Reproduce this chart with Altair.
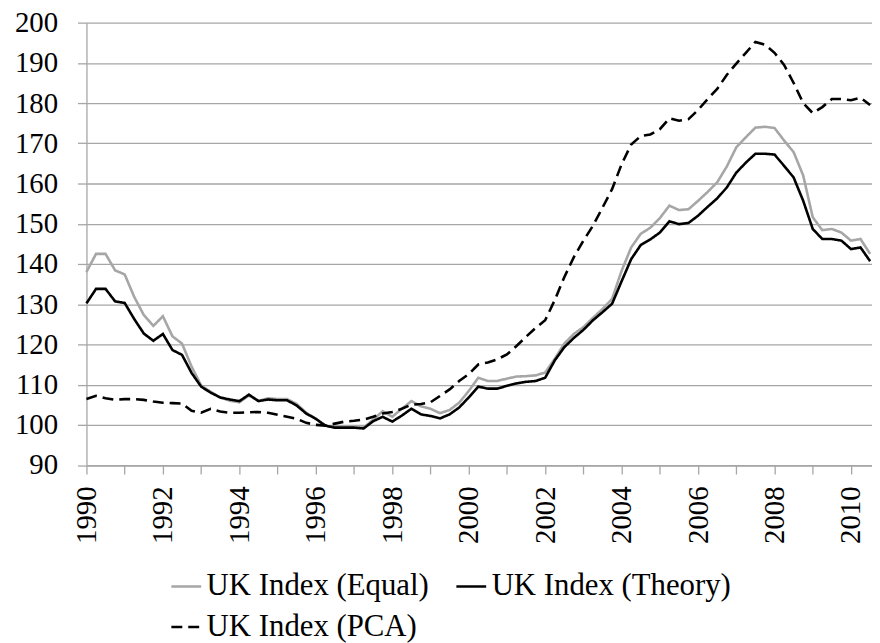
import altair as alt
import pandas as pd

# Quarterly UK house price indices, 1990Q1 - 2010Q3
start_year = 1990
series_names = ["UK Index (Equal)", "UK Index (Theory)", "UK Index (PCA)"]

equal = [
    138.0, 142.5, 142.5, 138.4, 137.4, 131.8, 127.3, 124.6, 127.0, 122.0,
    120.2, 114.5, 109.8, 108.2, 106.8, 106.0, 105.6, 107.3, 106.0, 106.6,
    106.4, 106.4, 105.2, 103.0, 101.5, 99.8, 99.3, 99.3, 99.3, 99.3,
    101.3, 103.4, 102.0, 104.0, 105.9, 104.6, 104.0, 102.9, 103.7, 105.5,
    108.4, 111.7, 110.9, 110.9, 111.5, 112.0, 112.1, 112.3, 113.0, 116.4,
    120.2, 122.6, 124.3, 126.6, 128.8, 131.3, 138.3, 144.1, 147.5, 149.0,
    151.4, 154.5, 153.4, 153.6, 155.7, 157.9, 160.3, 164.2, 169.0, 171.5,
    173.9, 174.1, 173.8, 170.7, 167.8, 162.0, 151.6, 148.4, 148.7, 147.8,
    145.8, 146.2, 142.5,
]
theory = [
    130.2, 133.8, 133.8, 130.7, 130.3, 126.3, 122.7, 120.9, 122.6, 118.6,
    117.4, 112.9, 109.5, 108.0, 106.8, 106.3, 105.9, 107.5, 105.9, 106.3,
    106.1, 106.1, 104.8, 102.8, 101.5, 99.8, 99.3, 99.3, 99.3, 99.1,
    100.9, 102.0, 100.8, 102.3, 104.0, 102.6, 102.2, 101.6, 102.6, 104.3,
    106.8, 109.5, 109.0, 109.0, 109.7, 110.3, 110.7, 110.9, 111.7, 116.0,
    119.3, 121.6, 123.6, 126.0, 128.0, 130.1, 135.7, 141.2, 144.7, 146.1,
    147.8, 150.6, 149.9, 150.2, 152.0, 154.2, 156.3, 159.0, 162.7, 165.2,
    167.4, 167.4, 167.2, 164.4, 161.5, 155.7, 148.7, 146.2, 146.2, 145.8,
    143.7, 144.1, 140.7,
]
pca = [
    106.4, 107.2, 106.6, 106.2, 106.4, 106.4, 106.2, 105.8, 105.5, 105.4,
    105.3, 103.5, 103.0, 104.0, 103.3, 103.0, 103.0, 103.1, 103.2, 103.0,
    102.5, 102.0, 101.5, 100.5, 100.0, 99.8, 100.3, 100.8, 101.0, 101.3,
    102.0, 102.8, 103.2, 104.0, 105.0, 105.2, 105.6, 107.2, 108.8, 110.9,
    112.6, 115.0, 115.5, 116.3, 117.5, 119.6, 121.9, 124.1, 126.0, 131.0,
    136.7, 141.7, 145.8, 149.5, 154.0, 158.6, 164.8, 169.7, 171.8, 172.2,
    173.5, 176.2, 175.6, 176.0, 178.3, 181.0, 183.5, 187.0, 189.8, 192.5,
    195.2, 194.5, 192.5, 189.5, 185.0, 180.0, 177.5, 179.0, 181.0, 181.0,
    180.7, 181.3, 179.5,
]

year_ticks = list(range(1990, 2011))
y_ticks = list(range(90, 201, 10))

rows = []
for k, (name, vals) in enumerate(zip(series_names, [equal, theory, pca])):
    for i, v in enumerate(vals):
        rows.append({"t": start_year + i / 4.0, "value": v, "series": name, "ord": k})
df = pd.DataFrame(rows)

FONT = "Liberation Serif"
GRID = "#a6a6a6"

legend = alt.Legend(
    title=None,
    orient="none",
    direction="horizontal",
    legendX=84,
    legendY=551,
    columns=2,
    symbolType="stroke",
    symbolSize=900,
    symbolStrokeWidth=2.6,
    labelFont=FONT,
    labelFontSize=31,
    labelColor="#000000",
    labelOffset=4,
    columnPadding=22,
    rowPadding=9,
    padding=0,
    labelLimit=400,
)

chart = (
    alt.Chart(df)
    .mark_line(strokeWidth=2.6)
    .encode(
        x=alt.X(
            "t:Q",
            scale=alt.Scale(domain=[1990, 2010.55], nice=False, zero=False),
            axis=alt.Axis(
                values=year_ticks,
                format="d",
                labelExpr="datum.value % 2 == 0 ? datum.label : ''",
                labelAngle=270,
                labelAlign="right",
                labelBaseline="middle",
                labelPadding=12,
                tickSize=9,
                grid=False,
                title=None,
                labelOverlap=False,
                labelFont=FONT,
            ),
        ),
        y=alt.Y(
            "value:Q",
            scale=alt.Scale(domain=[90, 200], nice=False, zero=False),
            axis=alt.Axis(
                values=y_ticks,
                tickSize=9,
                labelPadding=20,
                title=None,
                grid=True,
                labelFont=FONT,
            ),
        ),
        color=alt.Color(
            "series:N",
            sort=series_names,
            scale=alt.Scale(domain=series_names, range=["#a6a6a6", "#000000", "#000000"]),
            legend=legend,
        ),
        strokeDash=alt.StrokeDash(
            "series:N",
            sort=series_names,
            scale=alt.Scale(domain=series_names, range=[[1, 0], [1, 0], [11, 6]]),
            legend=legend,
        ),
        order=alt.Order("ord:Q"),
    )
    .properties(
        width=791,
        height=445.5,
        padding={"left": 79, "top": 12.5, "right": 0, "bottom": 185},
        autosize=alt.AutoSizeParams(type="none"),
    )
    .configure(font=FONT)
    .configure_view(stroke=None)
    .configure_axis(
        labelFont=FONT,
        labelFontSize=29,
        labelColor="#000000",
        gridColor=GRID,
        gridWidth=1.3,
        domainColor=GRID,
        domainWidth=1.3,
        tickColor=GRID,
        tickWidth=1.3,
    )
    .configure_legend(labelFont=FONT)
)

chart.save("out.html", embed_options={"renderer": "svg", "actions": False})
